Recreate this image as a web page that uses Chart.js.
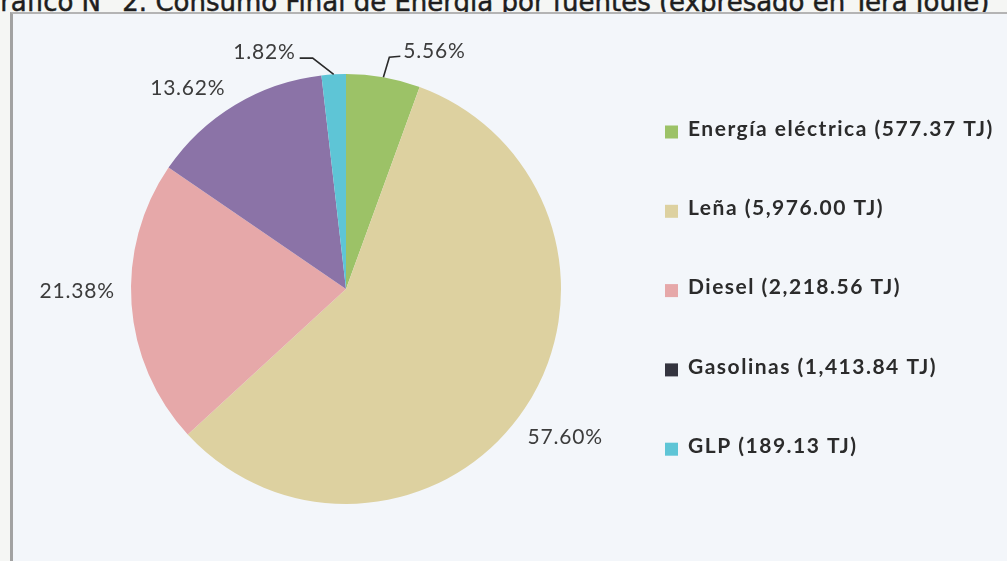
<!DOCTYPE html>
<html>
<head>
<meta charset="utf-8">
<script src="https://cdn.jsdelivr.net/npm/chart.js@4.4.1/dist/chart.umd.min.js"></script>
<style>
  html, body { margin: 0; padding: 0; }
  body { width: 1007px; height: 561px; overflow: hidden; background: #f5f6f4; position: relative; font-family: "DejaVu Sans", sans-serif; }
  #title { position: absolute; left: -20px; top: -11px; font-size: 26px; line-height: 26px; color: #1e1e1e; white-space: nowrap; -webkit-text-stroke: 0.5px #1e1e1e; }
  #frame { position: absolute; left: 10px; top: 12px; width: 1100px; height: 600px; background: #f3f6fa; border-left: 3px solid #a2a2a2; border-top: 2px solid #b4b4b4; }
  #c { position: absolute; left: 0; top: 0; }
</style>
</head>
<body>
<div id="title">Gráfico N° 2. Consumo Final de Energía por fuentes (expresado en Tera Joule)</div>
<div id="frame"></div>
<canvas id="c" width="1007" height="561"></canvas>
<script>
// ---- data ----
const categories = ['Energía eléctrica', 'Leña', 'Diesel', 'Gasolinas', 'GLP'];
const valuesTJ = [577.37, 5976.00, 2218.56, 1413.84, 189.13];
const pctLabels = ['5.56%', '57.60%', '21.38%', '13.62%', '1.82%'];

// ---- styles ----
const sliceColors = ['#9cc267', '#ddd1a0', '#e6a8a9', '#8b73a7', '#5ec5d6'];
const legendMarkerColors = ['#9cc267', '#ddd1a0', '#e6a8a9', '#34343f', '#5ec5d6'];
// label placement: [angle shift in degrees from slice mid, radius factor, leader side]
const labelPlacement = [[10.4, 1.18, 'right'], [0.3, 1.23, null], [3.7, 1.25, null], [-7.1, 1.19, null], [-15.7, 1.165, 'left']];

function fmtTJ(v) {
  return v.toLocaleString('en-US', { minimumFractionDigits: 2, maximumFractionDigits: 2 }) + ' TJ';
}

const labelPlugin = {
  id: 'pieLabels',
  afterDatasetsDraw(chart) {
    const ctx = chart.ctx;
    const meta = chart.getDatasetMeta(0);
    ctx.save();
    ctx.font = '21px Lato';
    ctx.letterSpacing = '0.8px';
    ctx.fillStyle = '#3c3c3c';
    ctx.textAlign = 'center';
    ctx.textBaseline = 'middle';
    meta.data.forEach((arc, i) => {
      const p = arc.getProps(['x', 'y', 'startAngle', 'endAngle', 'outerRadius'], true);
      const mid = (p.startAngle + p.endAngle) / 2;
      const pl = labelPlacement[i];
      const a = mid + pl[0] * Math.PI / 180;
      const lx = p.x + Math.cos(a) * p.outerRadius * pl[1];
      const ly = p.y + Math.sin(a) * p.outerRadius * pl[1];
      ctx.fillText(pctLabels[i], lx, ly);
      if (pl[2]) {
        const w = ctx.measureText(pctLabels[i]).width;
        const ax = p.x + Math.cos(mid) * p.outerRadius;
        const ay = p.y + Math.sin(mid) * p.outerRadius;
        ctx.strokeStyle = '#2a2a2a';
        ctx.lineWidth = 1.6;
        ctx.beginPath();
        if (pl[2] === 'left') {
          const sx = lx + w / 2 + 4, sy = ly + 6;
          ctx.moveTo(sx, sy);
          ctx.lineTo(sx + 13, sy);
          ctx.lineTo(ax, ay);
        } else {
          const sx = lx - w / 2 - 3, sy = ly + 5;
          ctx.moveTo(sx, sy);
          ctx.lineTo(sx - 11, sy + 1);
          ctx.lineTo(ax, ay);
        }
        ctx.stroke();
      }
    });
    ctx.restore();
  }
};

const legendPlugin = {
  id: 'sideLegend',
  afterDraw(chart) {
    const ctx = chart.ctx;
    ctx.save();
    ctx.font = 'bold 21px Lato';
    ctx.letterSpacing = '1.5px';
    ctx.textAlign = 'left';
    ctx.textBaseline = 'middle';
    const x0 = 665, y0 = 129, step = 79.3, box = 13;
    chart.data.labels.forEach((lab, i) => {
      const y = y0 + i * step;
      ctx.fillStyle = legendMarkerColors[i];
      ctx.fillRect(x0, y - box / 2 + 3, box, box);
      ctx.fillStyle = '#2b2b2b';
      ctx.fillText(lab + ' (' + fmtTJ(valuesTJ[i]) + ')', x0 + 23, y);
    });
    ctx.restore();
  }
};

new Chart(document.getElementById('c'), {
  type: 'pie',
  data: {
    labels: categories,
    datasets: [{
      data: valuesTJ,
      backgroundColor: sliceColors,
      borderWidth: 0
    }]
  },
  options: {
    responsive: false,
    animation: false,
    devicePixelRatio: 1,
    layout: { padding: { left: 131, right: 446, top: 74, bottom: 57 } },
    plugins: {
      legend: { display: false },
      tooltip: { enabled: false }
    }
  },
  plugins: [labelPlugin, legendPlugin]
});
</script>
</body>
</html>
